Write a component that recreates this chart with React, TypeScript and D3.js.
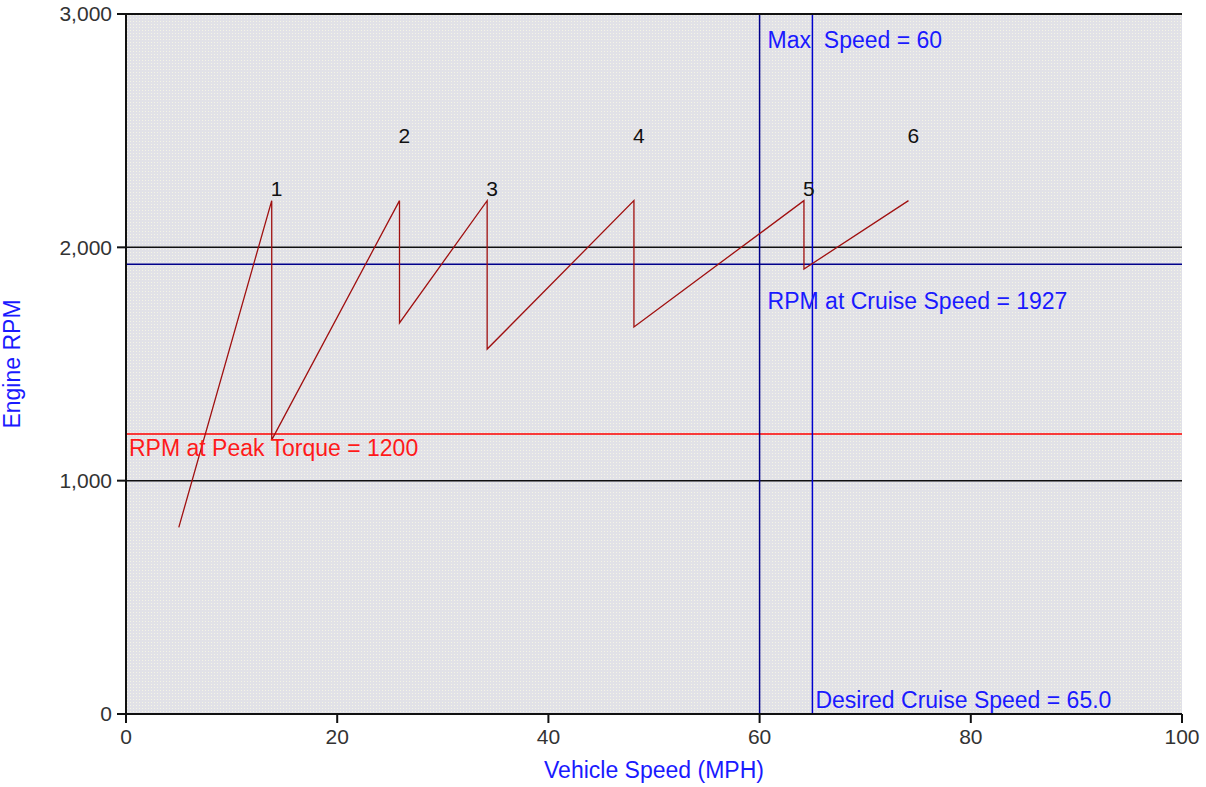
import React from 'react';
import * as d3 from 'd3';

const WIDTH = 1206;
const HEIGHT = 787;
const margin = { top: 14, right: 24, bottom: 73, left: 126 };

// gear curves: each gear runs from the previous drop to the shift point at 2200 rpm
const gears = ['1', '2', '3', '4', '5', '6'];
const shiftSpeeds = [13.8, 25.9, 34.2, 48.1, 64.2, 74.1];
const shiftRpm = 2200;
const dropRpms = [1175, 1676, 1564, 1659, 1907];
const startSpeed = 5;
const startRpm = 800;

const xTicks = [0, 20, 40, 60, 80, 100];
const yTicks = [0, 1000, 2000, 3000];
const gridRpms = [1000, 2000, 3000];

const maxSpeed = 60;
const cruiseSpeed = 65;
const cruiseRpm = 1927;
const peakTorqueRpm = 1200;

const App: React.FC = () => {
  const iw = WIDTH - margin.left - margin.right;
  const ih = HEIGHT - margin.top - margin.bottom;

  const x = d3.scaleLinear().domain([0, 100]).range([0, iw]);
  const y = d3.scaleLinear().domain([0, 3000]).range([ih, 0]);

  const pts: [number, number][] = [[startSpeed, startRpm]];
  shiftSpeeds.forEach((s, i) => {
    pts.push([s, shiftRpm]);
    if (i < dropRpms.length) pts.push([s, dropRpms[i]]);
  });

  const line = d3
    .line<[number, number]>()
    .x((d) => x(d[0]))
    .y((d) => y(d[1]));

  const fmt = d3.format(',');
  const font = "'Liberation Sans', Arial, sans-serif";
  const lbl = 23;

  return (
    <svg
      width={WIDTH}
      height={HEIGHT}
      style={{ position: 'absolute', left: 0, top: 0, background: '#fff' }}
      fontFamily={font}
    >
      <defs>
        <pattern id="dots" width="3" height="3" patternUnits="userSpaceOnUse">
          <rect width="3" height="3" fill="#e1e1e7" />
          <rect x="1" y="1" width="1" height="1" fill="#f4f4e6" />
        </pattern>
      </defs>
      <g transform={`translate(${margin.left},${margin.top})`}>
        <rect width={iw} height={ih} fill="url(#dots)" />

        {/* horizontal grid */}
        {gridRpms.map((r) => (
          <line key={r} x1={0} x2={iw} y1={y(r)} y2={y(r)} stroke="#111" strokeWidth={1.5} />
        ))}

        {/* reference lines */}
        <line x1={0} x2={iw} y1={y(peakTorqueRpm)} y2={y(peakTorqueRpm)} stroke="#ff0000" strokeWidth={1.5} />
        <line x1={0} x2={iw} y1={y(cruiseRpm)} y2={y(cruiseRpm)} stroke="#00008b" strokeWidth={1.5} />
        <line x1={x(maxSpeed)} x2={x(maxSpeed)} y1={0} y2={ih} stroke="#00008b" strokeWidth={1.5} />
        <line x1={x(cruiseSpeed)} x2={x(cruiseSpeed)} y1={0} y2={ih} stroke="#0000cd" strokeWidth={1.5} />

        {/* rpm curve */}
        <path d={line(pts) || ''} fill="none" stroke="#a01010" strokeWidth={1.3} />

        {/* gear labels */}
        {gears.map((g, i) => (
          <text
            key={g}
            x={x(shiftSpeeds[i]) - 1}
            y={y(i % 2 === 0 ? 2250 : 2480)}
            dy="0.35em"
            fontSize={21}
            fill="#111"
          >
            {g}
          </text>
        ))}

        <text x={x(maxSpeed) + 8} y={y(2890)} dy="0.35em" fontSize={lbl} fill="#1a1aff" xmlSpace="preserve">
          {'Max  Speed = 60'}
        </text>
        <text x={x(maxSpeed) + 8} y={y(1770)} dy="0.35em" fontSize={lbl} fill="#1a1aff">
          {`RPM at Cruise Speed = ${cruiseRpm}`}
        </text>
        <text x={3} y={y(1140)} dy="0.35em" fontSize={lbl} fill="#ff1a1a">
          {`RPM at Peak Torque = ${peakTorqueRpm}`}
        </text>
        <text x={x(cruiseSpeed) + 3} y={y(60)} dy="0.35em" fontSize={lbl} fill="#1a1aff">
          {`Desired Cruise Speed = ${cruiseSpeed.toFixed(1)}`}
        </text>

        {/* axes */}
        <line x1={0} x2={iw} y1={0} y2={0} stroke="#111" strokeWidth={2} />
        <line x1={0} x2={0} y1={0} y2={ih + 8} stroke="#111" strokeWidth={2} />
        <line x1={-8} x2={iw} y1={ih} y2={ih} stroke="#111" strokeWidth={2} />

        {xTicks.map((t) => (
          <g key={t} transform={`translate(${x(t)},${ih})`}>
            <line y1={0} y2={9} stroke="#111" strokeWidth={2} />
            <text y={30} textAnchor="middle" fontSize={21} fill="#333">
              {t}
            </text>
          </g>
        ))}
        {yTicks.map((t) => (
          <g key={t} transform={`translate(0,${y(t)})`}>
            <line x1={-9} x2={0} stroke="#111" strokeWidth={2} />
            <text x={-14} dy="0.35em" textAnchor="end" fontSize={21} fill="#333">
              {fmt(t)}
            </text>
          </g>
        ))}

        <text x={iw / 2} y={ih + 64} textAnchor="middle" fontSize={lbl} fill="#1a1aff">
          Vehicle Speed (MPH)
        </text>
        <text
          transform={`translate(${-106},${ih / 2}) rotate(-90)`}
          textAnchor="middle"
          fontSize={lbl}
          fill="#1a1aff"
        >
          Engine RPM
        </text>
      </g>
    </svg>
  );
};

export default App;
